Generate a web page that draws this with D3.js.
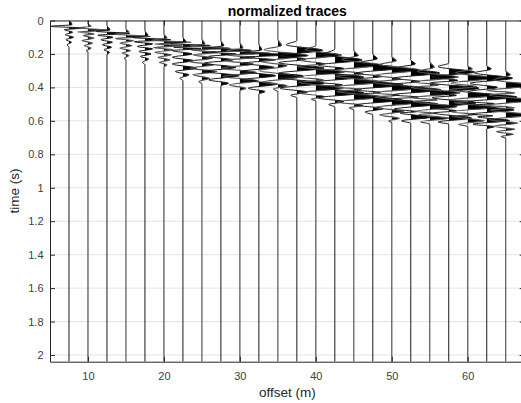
<!DOCTYPE html>
<html><head><meta charset="utf-8">
<script src="https://cdn.jsdelivr.net/npm/d3@7"></script>
<style>
body{margin:0;background:#fff}
svg{display:block}
text{font-family:Arial,"Liberation Sans",Helvetica,sans-serif}
</style>
</head><body>
<script>
// ---- data ----
const titleText = "normalized traces";
const xLabelText = "offset (m)";
const yLabelText = "time (s)";
const xTicks = [10, 20, 30, 40, 50, 60];
const yTicks = [0, 0.2, 0.4, 0.6, 0.8, 1, 1.2, 1.4, 1.6, 1.8, 2];
const yTickLabels = ["0","0.2","0.4","0.6","0.8","1","1.2","1.4","1.6","1.8","2"];
const offsets = [7.5,10,12.5,15,17.5,20,22.5,25,27.5,30,32.5,35,37.5,40,42.5,45,47.5,50,52.5,55,57.5,60,62.5,65];
// each trace: [time (s), normalized amplitude] at the visible turning points
const traces = [
  [[0.0,0],[0.025,0.1],[0.035,-0.6],[0.045,0.45],[0.055,-0.15],[0.07,0.12],[0.085,-0.12],[0.1,0.15],[0.115,-0.1],[0.13,0.08],[0.145,-0.06],[0.16,0]],
  [[0.02,0],[0.035,0.1],[0.045,-0.3],[0.058,0.7],[0.068,-0.35],[0.08,0.2],[0.09,-0.15],[0.105,0.2],[0.12,-0.2],[0.135,0.15],[0.15,-0.12],[0.165,0.1],[0.18,-0.05],[0.19,0]],
  [[0.03,0],[0.055,0.1],[0.065,-0.35],[0.077,0.75],[0.088,-0.3],[0.1,0.2],[0.115,-0.2],[0.13,0.18],[0.145,-0.15],[0.16,0.15],[0.175,-0.1],[0.19,0.08],[0.205,0]],
  [[0.05,0],[0.07,0.1],[0.082,-0.35],[0.095,0.8],[0.107,-0.35],[0.12,0.25],[0.135,-0.2],[0.15,0.2],[0.165,-0.2],[0.18,0.15],[0.195,-0.12],[0.21,0.1],[0.225,-0.05],[0.235,0]],
  [[0.06,0],[0.09,0.1],[0.102,-0.4],[0.115,0.85],[0.127,-0.35],[0.14,0.25],[0.155,-0.25],[0.17,0.25],[0.185,-0.2],[0.2,0.2],[0.215,-0.15],[0.23,0.12],[0.25,-0.08],[0.265,0]],
  [[0.08,0],[0.105,0.1],[0.118,-0.4],[0.13,0.9],[0.14,-0.3],[0.15,0.6],[0.162,-0.35],[0.175,0.3],[0.19,-0.3],[0.205,0.25],[0.22,-0.2],[0.235,0.2],[0.25,-0.15],[0.265,0.1],[0.28,0]],
  [[0.1,0],[0.125,0.1],[0.138,-0.4],[0.15,0.9],[0.16,-0.3],[0.168,0.6],[0.18,-0.35],[0.2,0.3],[0.22,-0.35],[0.24,0.35],[0.26,-0.35],[0.285,0.45],[0.305,-0.25],[0.325,0.2],[0.345,-0.1],[0.36,0]],
  [[0.11,0],[0.14,0.1],[0.152,-0.4],[0.165,0.95],[0.177,-0.35],[0.19,0.5],[0.205,-0.3],[0.225,0.35],[0.245,-0.45],[0.265,0.4],[0.285,-0.4],[0.305,0.5],[0.325,-0.3],[0.345,0.25],[0.365,-0.1],[0.38,0]],
  [[0.12,0],[0.15,0.1],[0.165,-0.4],[0.178,1.0],[0.19,-0.35],[0.2,0.5],[0.215,-0.4],[0.235,0.4],[0.255,-0.55],[0.28,0.5],[0.305,-0.55],[0.33,0.6],[0.355,-0.4],[0.375,0.25],[0.39,0]],
  [[0.13,0],[0.165,0.1],[0.18,-0.45],[0.195,1.0],[0.208,-0.4],[0.22,0.5],[0.24,-0.5],[0.26,0.45],[0.285,-0.6],[0.31,0.55],[0.335,-0.55],[0.36,0.6],[0.385,-0.35],[0.405,0.2],[0.42,0]],
  [[0.14,0],[0.175,0.1],[0.19,-0.5],[0.205,1.0],[0.22,-0.45],[0.235,0.55],[0.255,-0.5],[0.28,0.5],[0.305,-0.6],[0.33,0.55],[0.355,-0.55],[0.38,0.6],[0.405,-0.35],[0.425,0.2],[0.44,0]],
  [[0.11,0],[0.15,0.12],[0.175,-0.45],[0.21,1.0],[0.245,-0.55],[0.27,0.3],[0.3,-0.6],[0.335,0.85],[0.368,-0.5],[0.39,0.3],[0.41,-0.15],[0.425,0]],
  [[0.12,0],[0.145,-0.35],[0.178,0.85],[0.21,-0.55],[0.232,0.3],[0.252,-0.6],[0.285,0.9],[0.315,-0.6],[0.33,0.2],[0.342,-0.55],[0.375,0.9],[0.405,-0.55],[0.428,0.35],[0.447,-0.2],[0.462,0]],
  [[0.15,0],[0.175,-0.35],[0.207,0.85],[0.238,-0.55],[0.258,0.3],[0.275,-0.6],[0.308,0.95],[0.338,-0.6],[0.355,0.25],[0.37,-0.55],[0.403,0.9],[0.433,-0.55],[0.455,0.3],[0.47,-0.15],[0.482,0]],
  [[0.17,0],[0.203,-0.35],[0.236,0.9],[0.267,-0.55],[0.287,0.3],[0.305,-0.6],[0.338,0.95],[0.368,-0.6],[0.385,0.25],[0.4,-0.55],[0.433,0.95],[0.463,-0.55],[0.485,0.3],[0.502,-0.2],[0.517,0]],
  [[0.18,0],[0.21,0.15],[0.233,-0.4],[0.266,0.95],[0.297,-0.55],[0.317,0.3],[0.334,-0.6],[0.367,0.95],[0.397,-0.6],[0.412,0.25],[0.424,-0.55],[0.457,0.95],[0.487,-0.55],[0.508,0.3],[0.522,-0.15],[0.535,0]],
  [[0.2,0],[0.228,0.15],[0.251,-0.4],[0.284,0.95],[0.315,-0.55],[0.335,0.3],[0.352,-0.6],[0.385,1.0],[0.415,-0.6],[0.43,0.25],[0.442,-0.55],[0.475,0.95],[0.505,-0.55],[0.527,0.35],[0.547,-0.25],[0.565,0]],
  [[0.215,0],[0.24,0.15],[0.263,-0.4],[0.296,0.95],[0.327,-0.55],[0.35,0.3],[0.37,-0.6],[0.403,1.0],[0.433,-0.6],[0.447,0.25],[0.458,-0.55],[0.49,0.9],[0.52,-0.55],[0.543,0.4],[0.565,-0.4],[0.585,0.25],[0.6,-0.1],[0.612,0]],
  [[0.235,0],[0.26,0.15],[0.281,-0.4],[0.314,0.95],[0.345,-0.55],[0.365,0.3],[0.382,-0.6],[0.415,1.0],[0.445,-0.6],[0.458,0.25],[0.468,-0.55],[0.5,0.9],[0.53,-0.55],[0.545,0.2],[0.553,-0.35],[0.578,0.65],[0.6,-0.3],[0.615,0]],
  [[0.245,0],[0.28,0.15],[0.305,-0.4],[0.338,0.95],[0.368,-0.55],[0.385,0.3],[0.4,-0.6],[0.433,1.0],[0.462,-0.6],[0.475,0.25],[0.484,-0.55],[0.515,0.9],[0.543,-0.5],[0.555,0.2],[0.562,-0.35],[0.585,0.65],[0.605,-0.3],[0.62,0]],
  [[0.255,0],[0.276,-0.35],[0.308,0.85],[0.338,-0.55],[0.358,0.3],[0.373,-0.6],[0.405,1.0],[0.435,-0.6],[0.448,0.25],[0.461,-0.55],[0.493,0.9],[0.523,-0.55],[0.54,0.25],[0.553,-0.5],[0.583,0.75],[0.607,-0.35],[0.62,0]],
  [[0.27,0],[0.29,0.15],[0.312,-0.4],[0.344,0.9],[0.375,-0.55],[0.395,0.3],[0.414,-0.6],[0.447,1.0],[0.475,-0.6],[0.483,0.2],[0.49,-0.45],[0.518,0.9],[0.546,-0.55],[0.562,0.3],[0.573,-0.5],[0.6,0.55],[0.62,-0.3],[0.635,0]],
  [[0.27,0],[0.29,0.15],[0.313,-0.4],[0.345,0.85],[0.376,-0.55],[0.4,0.35],[0.425,-0.6],[0.458,1.0],[0.486,-0.6],[0.497,0.25],[0.506,-0.45],[0.535,0.9],[0.56,-0.5],[0.57,0.2],[0.576,-0.3],[0.598,0.75],[0.62,-0.45],[0.635,0.25],[0.648,0]],
  [[0.3,0],[0.325,0.15],[0.355,-0.4],[0.388,1.0],[0.418,-0.6],[0.433,0.3],[0.445,-0.55],[0.477,0.95],[0.506,-0.6],[0.522,0.3],[0.535,-0.5],[0.565,0.85],[0.593,-0.55],[0.613,0.4],[0.633,-0.4],[0.65,0.3],[0.665,-0.3],[0.68,0.25],[0.693,-0.15],[0.705,0]]
];

// ---- layout ----
const W = 521, H = 403;
const L = 50, T = 20.5, R = 524.7, B = 361.7;
const tMax = 2.04;
const gain = 4; // offset units per unit of normalized amplitude
const axisColor = "#262626";

const x = d3.scaleLinear().domain([5, 67.5]).range([L, R]);
const y = d3.scaleLinear().domain([0, tMax]).range([T, B]);

const svg = d3.select("body").append("svg").attr("width", W).attr("height", H);
const defs = svg.append("defs");
defs.append("clipPath").attr("id", "plotclip")
  .append("rect").attr("x", L).attr("y", T).attr("width", R - L).attr("height", B - T);

// grid
const grid = svg.append("g").attr("class", "grid");
grid.selectAll("line.h").data(yTicks).join("line")
  .attr("x1", L).attr("x2", R).attr("y1", d => y(d)).attr("y2", d => y(d))
  .attr("stroke", "#e3e3e3").attr("stroke-width", 1);
grid.selectAll("line.v").data(xTicks).join("line")
  .attr("y1", T).attr("y2", B).attr("x1", d => x(d)).attr("x2", d => x(d))
  .attr("stroke", "#e3e3e3").attr("stroke-width", 1);

// traces
const plot = svg.append("g").attr("clip-path", "url(#plotclip)");
traces.forEach((pts, i) => {
  const off = offsets[i];
  const full = pts[0][0] > 0 ? [[0, 0]].concat(pts) : pts.slice();
  full.push([tMax, 0]);
  const line = d3.line()
    .x(d => x(off + gain * d[1]))
    .y(d => y(d[0]))
    .curve(d3.curveMonotoneY);
  const x0 = x(off);
  defs.append("clipPath").attr("id", "pos" + i)
    .append("rect").attr("x", x0).attr("y", T).attr("width", R - x0 + 60).attr("height", B - T);
  const d = line(full) + `L${x0},${y(full[0][0])}Z`;
  plot.append("path").attr("d", d).attr("fill", "#000").attr("stroke", "none")
    .attr("clip-path", `url(#pos${i})`);
  plot.append("path").attr("d", line(full)).attr("fill", "none")
    .attr("stroke", i % 2 ? "#555" : "#1a1a1a").attr("stroke-width", i % 2 ? 1.2 : 1);
});

// axes (MATLAB-like box with inward ticks)
const fmtY = d => yTickLabels[yTicks.indexOf(d)];
const yAxis = d3.axisLeft(y).tickValues(yTicks).tickFormat(fmtY).tickSize(-5).tickSizeOuter(0).tickPadding(6.5);
const gy = svg.append("g").attr("transform", `translate(${L},0)`).call(yAxis);
const xAxis = d3.axisBottom(x).tickValues(xTicks).tickFormat(d3.format("d")).tickSize(-5).tickSizeOuter(0).tickPadding(10.5);
const gx = svg.append("g").attr("transform", `translate(0,${B})`).call(xAxis);
const yAxisR = d3.axisRight(y).tickValues(yTicks).tickFormat("").tickSize(-5).tickSizeOuter(0);
const gyr = svg.append("g").attr("transform", `translate(${R},0)`).call(yAxisR);
const xAxisT = d3.axisTop(x).tickValues(xTicks).tickFormat("").tickSize(-5).tickSizeOuter(0);
const gxt = svg.append("g").attr("transform", `translate(0,${T})`).call(xAxisT);
[gy, gx, gyr, gxt].forEach(g => {
  g.selectAll(".domain").attr("stroke", axisColor).attr("stroke-width", 1);
  g.selectAll(".tick line").attr("stroke", axisColor).attr("stroke-width", 1);
  g.selectAll(".tick text").attr("fill", "#404040").style("font-size", "11px")
    .style("font-family", "Arial, 'Liberation Sans', sans-serif");
});

// labels
svg.append("text").attr("x", (L + R) / 2).attr("y", 15.5).attr("text-anchor", "middle")
  .style("font-size", "14px").style("font-weight", "bold").attr("fill", "#000").text(titleText);
svg.append("text").attr("x", (L + R) / 2).attr("y", 397).attr("text-anchor", "middle")
  .style("font-size", "13.5px").attr("fill", "#262626").text(xLabelText);
svg.append("text").attr("transform", `translate(19,${(T + B) / 2}) rotate(-90)`).attr("text-anchor", "middle")
  .style("font-size", "13.5px").attr("fill", "#262626").text(yLabelText);
</script>
</body></html>
